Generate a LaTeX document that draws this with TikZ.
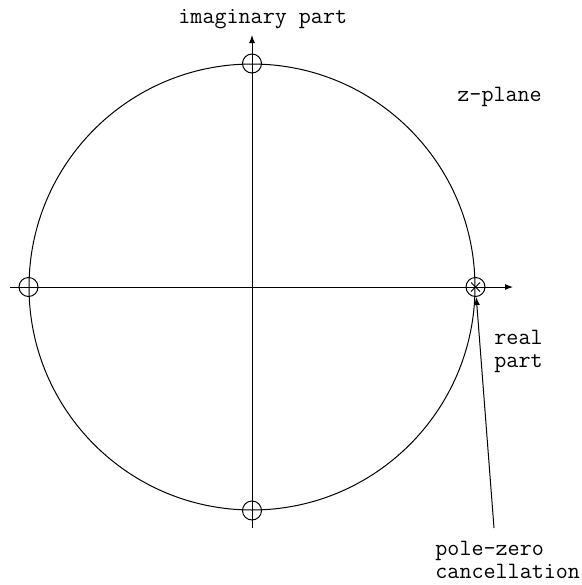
\documentclass[tikz,border=0pt]{standalone}
\usepackage{fontspec}
\usetikzlibrary{positioning, shapes.misc, arrows.meta}

\begin{document}
\begin{tikzpicture}[x=0.5pt, y=-0.5pt,
        axis/.style={line width=0.5pt, -{Latex[length=4pt, width=3pt]}},
        zero/.style={draw, circle, line width=0.5pt, minimum size=9.5pt, inner sep=0pt},
        pole/.style={draw, cross out, line width=0.5pt, minimum size=4pt, inner sep=0pt},
        lbl/.style={font=\ttfamily\fontsize{11.7}{11.5}\selectfont, inner sep=0pt, align=left}
    ]
        \useasboundingbox (0,0) rectangle (582,585);

        % unit circle
        \node[draw, circle, line width=0.5pt, minimum size=223pt, inner sep=0pt] (uc) at (252,287) {};

        % axes
        \coordinate (xl) at (10,287);
        \coordinate (xr) at (513,287);
        \coordinate (yb) at (252,528);
        \coordinate (yt) at (252,35);
        \draw[axis] (xl) -- (xr);
        \draw[axis] (yb) -- (yt);

        % zeros and pole
        \node[zero] (zw) at (uc.west) {};
        \node[zero] (zn) at (uc.north) {};
        \node[zero] (zs) at (uc.south) {};
        \node[zero] (ze) at (uc.east) {};
        \node[pole] (pe) at (uc.east) {};

        % labels
        \node[lbl, anchor=base west] (im) at (178,23) {imaginary part};
        \node[lbl, anchor=base west] (zp) at (457,101) {z-plane};
        \node[lbl, anchor=north west] (re) at (494,330) {real\\part};
        \node[lbl, anchor=north west] (pz) at (435,541) {pole-zero\\cancellation};

        \coordinate (tail) at (494,528);
        \draw[axis] (tail) -- (ze);

    \end{tikzpicture}
\end{document}
